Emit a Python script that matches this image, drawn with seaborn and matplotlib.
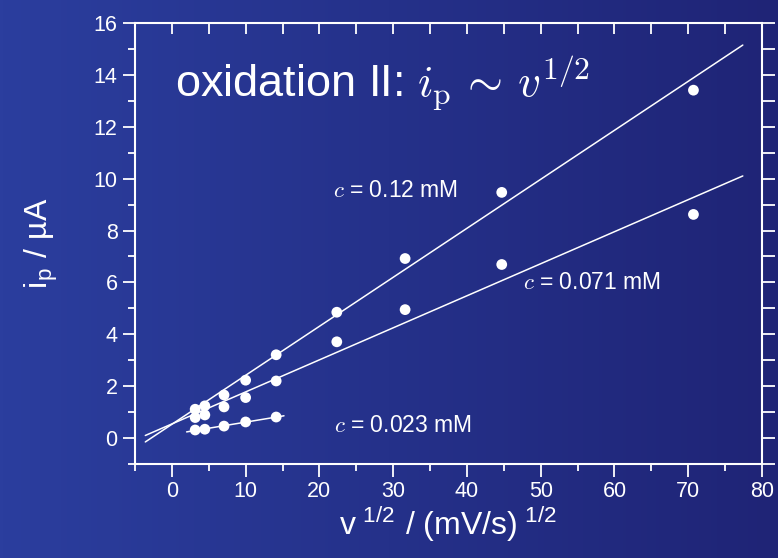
import numpy as np
import pandas as pd
import matplotlib
matplotlib.use('Agg')
import matplotlib.pyplot as plt
import seaborn as sb

# sqrt of scan rate, (mV/s)^1/2
sqrt_v = [3.16, 4.47, 7.07, 10.0, 14.14, 22.36, 31.62, 44.72, 70.71]
# peak currents, uA
ip_012 = [1.11, 1.24, 1.66, 2.23, 3.21, 4.85, 6.92, 9.47, 13.41]
ip_0071 = [0.79, 0.89, 1.20, 1.56, 2.20, 3.71, 4.95, 6.69, 8.62]
ip_0023 = [0.31, 0.34, 0.46, 0.62, 0.81]
labels = ['0.12', '0.071', '0.023']

sb.set_style('ticks')
plt.rcParams['font.family'] = ['Liberation Sans', 'DejaVu Sans']
plt.rcParams['mathtext.fontset'] = 'cm'
plt.rcParams['axes.unicode_minus'] = False

fig = plt.figure(figsize=(7.78, 5.58), dpi=100)

# gradient background
bg = fig.add_axes([0, 0, 1, 1], zorder=0)
left_col = np.array([43, 62, 158]) / 255
right_col = np.array([31, 36, 118]) / 255
t = np.linspace(0, 1, 256)
grad = left_col[None, :] * (1 - t[:, None]) + right_col[None, :] * t[:, None]
bg.imshow(grad[None, :, :], aspect='auto', extent=[0, 1, 0, 1])
bg.axis('off')

ax = fig.add_axes([0.1735, 0.1685, 0.8059, 0.7903], zorder=1)
ax.set_facecolor('none')

series = [(sqrt_v, ip_012, (-3.6, 77.4)),
          (sqrt_v, ip_0071, (-3.6, 77.4)),
          (sqrt_v[:5], ip_0023, (2.0, 15.2))]
for xs, ys, (x0, x1) in series:
    df = pd.DataFrame({'x': xs, 'y': ys})
    sb.scatterplot(data=df, x='x', y='y', ax=ax, color='white', s=60,
                   edgecolor='none', zorder=3)
    k, b = np.polyfit(xs, ys, 1)
    xf = np.array([x0, x1])
    fit = pd.DataFrame({'x': xf, 'y': k * xf + b})
    sb.lineplot(data=fit, x='x', y='y', ax=ax, color='white', lw=1.1, zorder=2)

ax.set_xlim(-5, 80)
ax.set_ylim(-1, 16)
ax.set_xticks(np.arange(0, 81, 10))
ax.set_xticks(np.arange(-5, 81, 5), minor=True)
ax.set_yticks(np.arange(0, 17, 2))
ax.set_yticks(np.arange(-1, 17, 1), minor=True)

for s in ax.spines.values():
    s.set_color('white')
    s.set_linewidth(1.5)
    s.set_visible(True)

ax.tick_params(which='major', direction='out', length=9, width=1.3,
               color='white', labelcolor='white', labelsize=15.5)
ax.tick_params(which='minor', direction='out', length=5, width=1.3, color='white')

top = ax.secondary_xaxis('top')
top.set_xticks(np.arange(-5, 81, 5))
top.tick_params(direction='in', length=8, width=1.3, color='white', labeltop=False)
top.spines['top'].set_visible(False)

right = ax.secondary_yaxis('right')
right.set_yticks(np.arange(-1, 17, 1))
right.tick_params(direction='out', length=9, width=1.3, color='white', labelright=False)
right.spines['right'].set_visible(False)

ax.set_xlabel(r'v$^{\mathregular{\ 1/2}}$ / (mV/s)$^{\mathregular{\ 1/2}}$',
              color='white', fontsize=23, labelpad=2)
ax.set_ylabel(r'i$_{\mathregular{p}}$ / µA', color='white', fontsize=23, labelpad=24)

ax.text(0.4, 13.14, r'oxidation II: $i_{\rm p}\,\sim\,v^{1/2}$', color='white',
        fontsize=32.5, va='baseline', ha='left')
ax.text(21.8, 9.31, r'$c$ = 0.12 mM', color='white', fontsize=16.5, va='baseline')
ax.text(47.55, 5.75, r'$c$ = 0.071 mM', color='white', fontsize=16.5, va='baseline')
ax.text(21.97, 0.23, r'$c$ = 0.023 mM', color='white', fontsize=16.5, va='baseline')

fig.savefig('out.png', dpi=100)
